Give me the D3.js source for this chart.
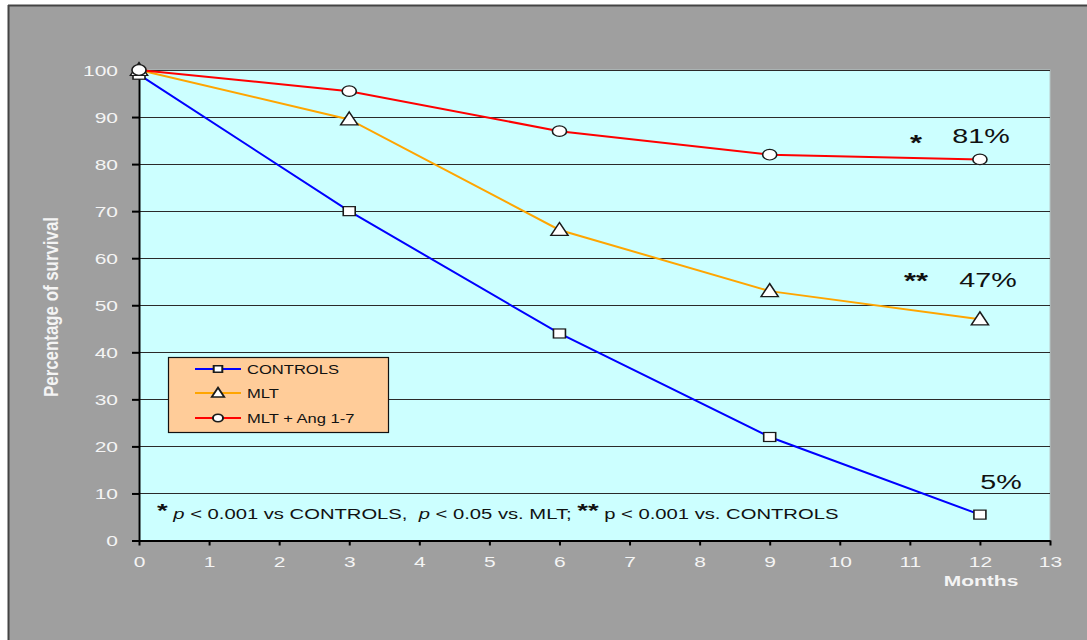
<!DOCTYPE html>
<html><head><meta charset="utf-8">
<script src="https://cdn.jsdelivr.net/npm/d3@7"></script>
<style>
html,body{margin:0;padding:0;background:#fff;}
svg{display:block;font-family:"Liberation Sans",Arial,sans-serif;}
</style>
</head><body>
<svg id="c" width="1087" height="640"></svg>
<script>
// ---- data ----
const months = [0, 3, 6, 9, 12];
const controls = [99, 70, 44, 22, 5.5];
const mlt = [100, 89.5, 66, 53, 47];
const mltAng = [100, 95.5, 87, 82, 81];
const seriesNames = ["CONTROLS", "MLT", "MLT + Ang 1-7"];
const yTicks = [0, 10, 20, 30, 40, 50, 60, 70, 80, 90, 100];
const xTicks = [0, 1, 2, 3, 4, 5, 6, 7, 8, 9, 10, 11, 12, 13];
const endLabels = ["5%", "47%", "81%"];
const endStars = ["", "**", "*"];

// ---- setup ----
const svg = d3.select("#c");
const SX = 1.4; // horizontal stretch of text
const x = d3.scaleLinear().domain([0, 13]).range([139, 1050]);
const y = d3.scaleLinear().domain([0, 100]).range([540.5, 70]);

// background
svg.append("rect").attr("x", 0).attr("y", 0).attr("width", 1087).attr("height", 640).attr("fill", "#ffffff");
svg.append("rect").attr("x", 8).attr("y", 5).attr("width", 1079).attr("height", 635).attr("fill", "#9f9f9f");
svg.append("line").attr("x1", 8).attr("x2", 1087).attr("y1", 5.5).attr("y2", 5.5).attr("stroke", "#444").attr("stroke-width", 2);
svg.append("line").attr("x1", 8.5).attr("x2", 8.5).attr("y1", 5).attr("y2", 640).attr("stroke", "#444").attr("stroke-width", 2);

// plot area
svg.append("rect").attr("x", x(0)).attr("y", y(100)).attr("width", x(13) - x(0)).attr("height", y(0) - y(100))
  .attr("fill", "#ccffff").attr("stroke", "#b8c8c8").attr("stroke-width", 1);

// gridlines
svg.append("g").selectAll("line").data(yTicks.filter(d => d > 0)).join("line")
  .attr("x1", x(0)).attr("x2", x(13))
  .attr("y1", d => Math.round(y(d)) + 0.5).attr("y2", d => Math.round(y(d)) + 0.5)
  .attr("stroke", "#2a2a2a").attr("stroke-width", 1);

// axes
const gy = svg.append("g").attr("transform", `translate(${x(0)},0)`)
  .call(d3.axisLeft(y).tickValues(yTicks).tickSize(7).tickSizeOuter(0));
const gx = svg.append("g").attr("transform", `translate(0,${y(0)})`)
  .call(d3.axisBottom(x).tickValues(xTicks).tickSize(5).tickSizeOuter(0));
[gy, gx].forEach(g => {
  g.select(".domain").attr("stroke", "#000").attr("stroke-width", 2);
  g.selectAll(".tick line").attr("stroke", "#000").attr("stroke-width", 2);
  g.selectAll(".tick text").attr("fill", "#f4f4f4").attr("font-size", 15)
    .attr("font-family", '"Liberation Sans",Arial,sans-serif');
});
gy.selectAll(".tick text").attr("x", 0).attr("dy", "0.36em")
  .attr("transform", `translate(-21,0) scale(${SX},1)`).attr("text-anchor", "end");
gx.selectAll(".tick text").attr("y", 0).attr("dy", 0)
  .attr("transform", `translate(0,26.5) scale(${SX},1)`).attr("text-anchor", "middle");

// axis titles
svg.append("text").attr("transform", `translate(58,307) scale(1.3,1) rotate(-90)`)
  .attr("text-anchor", "middle").attr("font-size", 16).attr("font-weight", "bold")
  .attr("fill", "#f4f4f4").attr("textLength", 180).attr("lengthAdjust", "spacingAndGlyphs")
  .text("Percentage of survival");
svg.append("text").attr("transform", `translate(981,586) scale(${SX},1)`)
  .attr("text-anchor", "middle").attr("font-size", 15).attr("font-weight", "bold")
  .attr("fill", "#f4f4f4").text("Months");

// series
const series = [
  { name: seriesNames[0], values: controls, color: "#0000ff", marker: "square" },
  { name: seriesNames[1], values: mlt, color: "#ffa500", marker: "triangle" },
  { name: seriesNames[2], values: mltAng, color: "#ff0000", marker: "circle" }
];
const line = d3.line().x(d => x(d[0])).y(d => y(d[1]));

function marker(g, type, k) {
  let el;
  if (type === "square") {
    el = g.append("rect").attr("x", -4.5 * k).attr("y", -4.5 * k).attr("width", 9 * k).attr("height", 9 * k);
  } else if (type === "triangle") {
    el = g.append("path").attr("d", `M0,${-7.5 * k}L${6.5 * k},${5.5 * k}L${-6.5 * k},${5.5 * k}Z`);
  } else {
    el = g.append("circle").attr("r", 5.3 * k);
  }
  el.attr("fill", "#ffffff").attr("stroke", "#1a1a1a").attr("stroke-width", 1.2 / Math.max(k, 0.8));
  return el;
}

series.forEach(s => {
  svg.append("path").datum(months.map((m, i) => [m, s.values[i]]))
    .attr("d", line).attr("fill", "none").attr("stroke", s.color).attr("stroke-width", 2);
});
series.forEach(s => {
  months.forEach((m, i) => {
    const g = svg.append("g").attr("transform", `translate(${x(m)},${y(s.values[i])}) scale(1.33,1)`);
    marker(g, s.marker, 1);
  });
});

// end labels
const labelPos = [
  { lx: 1001, ly: 489, sx: 927, sy: 0 },
  { lx: 988, ly: 287, sx: 916, sy: 288 },
  { lx: 981, ly: 143, sx: 916, sy: 150 }
];
endLabels.forEach((t, i) => {
  svg.append("text").attr("transform", `translate(${labelPos[i].lx},${labelPos[i].ly}) scale(${SX},1)`)
    .attr("text-anchor", "middle").attr("font-size", 20.5).attr("fill", "#111").text(t);
  if (endStars[i]) {
    svg.append("text").attr("transform", `translate(${labelPos[i].sx},${labelPos[i].sy}) scale(${SX},1)`)
      .attr("text-anchor", "middle").attr("font-size", 22).attr("font-weight", "bold").attr("fill", "#111").text(endStars[i]);
  }
});

// footnote
const fn = svg.append("text").attr("transform", `translate(157,519) scale(1.445,1)`)
  .attr("font-size", 14).attr("fill", "#111").style("white-space", "pre");
fn.append("tspan").attr("font-size", 19).attr("font-weight", "bold").attr("dy", -2).text("*");
fn.append("tspan").attr("dy", 2).text(" ");
fn.append("tspan").attr("font-style", "italic").text("p");
fn.append("tspan").text(" < 0.001 vs CONTROLS,  ");
fn.append("tspan").attr("font-style", "italic").text("p");
fn.append("tspan").text(" < 0.05 vs. MLT; ");
fn.append("tspan").attr("font-size", 19).attr("font-weight", "bold").attr("dy", -2).text("**");
fn.append("tspan").attr("dy", 2).text(" p < 0.001 vs. CONTROLS");

// legend
const lg = svg.append("g");
lg.append("rect").attr("x", 168.5).attr("y", 357.5).attr("width", 220).attr("height", 75)
  .attr("fill", "#ffcc99").attr("stroke", "#111").attr("stroke-width", 1.2);
const rowsY = [369, 393, 418];
series.forEach((s, i) => {
  lg.append("line").attr("x1", 195).attr("x2", 241).attr("y1", rowsY[i]).attr("y2", rowsY[i])
    .attr("stroke", s.color).attr("stroke-width", 2);
  const g = lg.append("g").attr("transform", `translate(218,${rowsY[i]}) scale(1.33,1)`);
  marker(g, s.marker, 0.72);
  lg.append("text").attr("transform", `translate(247,${rowsY[i] + 5}) scale(1.38,1)`)
    .attr("font-size", 12).attr("fill", "#111").text(s.name);
});
</script>
</body></html>
